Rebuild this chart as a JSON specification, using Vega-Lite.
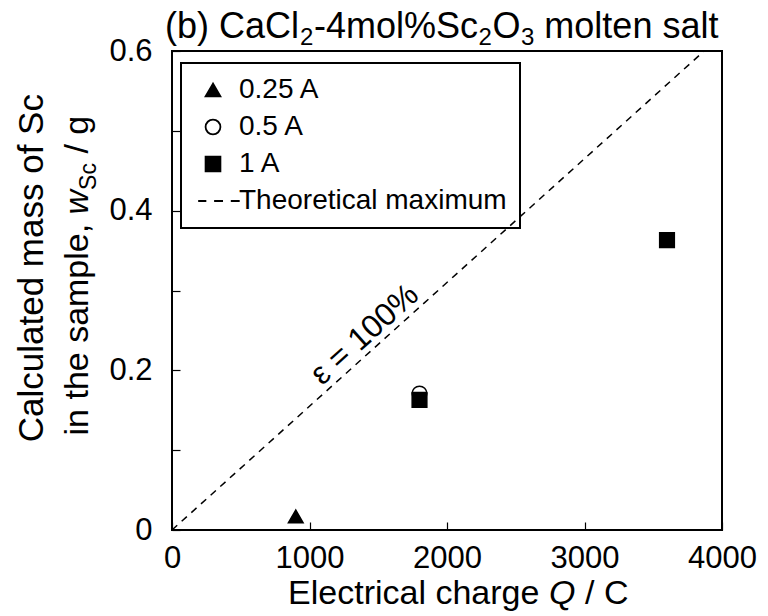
{
  "$schema": "https://vega.github.io/schema/vega-lite/v6.json",
  "width": 550,
  "height": 479,
  "autosize": "none",
  "padding": {"left": 172, "top": 51, "right": 46, "bottom": 86},
  "config": {
    "font": "Liberation Sans",
    "view": {"stroke": "black", "strokeWidth": 2},
    "axis": {"domain": false, "grid": false, "tickColor": "black", "labelColor": "black", "labelFont": "Liberation Sans", "labelFontSize": 31, "tickWidth": 1.2, "title": null, "labelFlush": false},
    "legend": {"labelFontSize": 28, "labelFont": "Liberation Sans", "labelColor": "black", "labelLimit": 400, "labelOffset": 12, "symbolSize": 220, "symbolStrokeWidth": 1.8, "symbolOffset": 5, "rowPadding": 9, "padding": 13, "strokeColor": "black", "strokeWidth": 2}
  },
  "layer": [
    {
      "data": {"values": [{"Q": 0, "w": 0}, {"Q": 3870, "w": 0.6}]},
      "mark": {"type": "line", "color": "black", "strokeWidth": 1.5, "strokeDash": [7, 6]},
      "encoding": {
        "x": {"field": "Q", "type": "quantitative", "scale": {"domain": [0, 4000]},
              "axis": {"values": [0, 1000, 2000, 3000, 4000], "format": "d", "tickSize": -8, "labelPadding": 21, "title": null, "labelFlush": false}},
        "y": {"field": "w", "type": "quantitative", "scale": {"domain": [0, 0.6]},
              "axis": {"values": [0, 0.1, 0.2, 0.3, 0.4, 0.5, 0.6], "format": "~g", "labelExpr": "round(datum.value*10) % 2 == 0 ? datum.label : ''", "tickSize": -8, "labelPadding": 28, "title": null, "labelFlush": false}}
      }
    },
    {
      "data": {"values": [
        {"Q": 900, "w": 0.017, "series": "0.25 A"},
        {"Q": 1800, "w": 0.171, "series": "0.5 A"},
        {"Q": 1800, "w": 0.163, "series": "1 A"},
        {"Q": 3600, "w": 0.363, "series": "1 A"}
      ]},
      "mark": {"type": "point", "filled": true, "strokeWidth": 1.5, "size": 215, "opacity": 1},
      "encoding": {
        "x": {"field": "Q", "type": "quantitative", "scale": {"domain": [0, 4000]}},
        "y": {"field": "w", "type": "quantitative", "scale": {"domain": [0, 0.6]}},
        "shape": {"field": "series", "type": "nominal",
          "scale": {"domain": ["0.25 A", "0.5 A", "1 A", "Theoretical maximum"], "range": ["triangle-up", "circle", "square", "M-2,0H-0.9M0.15,0H1.35M2.4,0H3.6"]},
          "legend": {"orient": "none", "legendX": 9, "legendY": 12, "title": null}},
        "fill": {"field": "series", "type": "nominal",
          "scale": {"domain": ["0.25 A", "0.5 A", "1 A", "Theoretical maximum"], "range": ["black", "white", "black", "transparent"]},
          "legend": {"orient": "none", "legendX": 9, "legendY": 12, "title": null}},
        "stroke": {"field": "series", "type": "nominal",
          "scale": {"domain": ["0.25 A", "0.5 A", "1 A", "Theoretical maximum"], "range": ["black", "black", "black", "black"]},
          "legend": {"orient": "none", "legendX": 9, "legendY": 12, "title": null}}
      }
    },
    {
      "data": {"values": [{}]},
      "mark": {"type": "text", "text": "(b) CaCl", "align": "left", "baseline": "alphabetic", "fontSize": 36, "font": "Liberation Sans", "color": "black"},
      "encoding": {"x": {"datum": -51, "type": "quantitative"}, "y": {"datum": 0.6163, "type": "quantitative"}}
    },
    {
      "data": {"values": [{}]},
      "mark": {"type": "text", "text": "2", "align": "left", "baseline": "alphabetic", "fontSize": 24, "font": "Liberation Sans", "color": "black"},
      "encoding": {"x": {"datum": 931, "type": "quantitative"}, "y": {"datum": 0.6075, "type": "quantitative"}}
    },
    {
      "data": {"values": [{}]},
      "mark": {"type": "text", "text": "-4mol%Sc", "align": "left", "baseline": "alphabetic", "fontSize": 36, "font": "Liberation Sans", "color": "black"},
      "encoding": {"x": {"datum": 1033, "type": "quantitative"}, "y": {"datum": 0.6163, "type": "quantitative"}}
    },
    {
      "data": {"values": [{}]},
      "mark": {"type": "text", "text": "2", "align": "left", "baseline": "alphabetic", "fontSize": 24, "font": "Liberation Sans", "color": "black"},
      "encoding": {"x": {"datum": 2229, "type": "quantitative"}, "y": {"datum": 0.6075, "type": "quantitative"}}
    },
    {
      "data": {"values": [{}]},
      "mark": {"type": "text", "text": "O", "align": "left", "baseline": "alphabetic", "fontSize": 36, "font": "Liberation Sans", "color": "black"},
      "encoding": {"x": {"datum": 2331, "type": "quantitative"}, "y": {"datum": 0.6163, "type": "quantitative"}}
    },
    {
      "data": {"values": [{}]},
      "mark": {"type": "text", "text": "3", "align": "left", "baseline": "alphabetic", "fontSize": 24, "font": "Liberation Sans", "color": "black"},
      "encoding": {"x": {"datum": 2538, "type": "quantitative"}, "y": {"datum": 0.6075, "type": "quantitative"}}
    },
    {
      "data": {"values": [{}]},
      "mark": {"type": "text", "text": "molten salt", "align": "left", "baseline": "alphabetic", "fontSize": 36, "font": "Liberation Sans", "color": "black"},
      "encoding": {"x": {"datum": 2708, "type": "quantitative"}, "y": {"datum": 0.6163, "type": "quantitative"}}
    },
    {
      "data": {"values": [{}]},
      "mark": {"type": "text", "text": "ε = 100%", "angle": 318, "align": "center", "baseline": "middle", "fontSize": 32, "font": "Liberation Sans", "color": "black"},
      "encoding": {"x": {"datum": 1400, "type": "quantitative"}, "y": {"datum": 0.245, "type": "quantitative"}}
    },
    {
      "data": {"values": [{}]},
      "mark": {"type": "text", "text": "Calculated mass of Sc", "angle": 270, "align": "center", "baseline": "alphabetic", "fontSize": 35, "font": "Liberation Sans", "color": "black"},
      "encoding": {"x": {"datum": -938, "type": "quantitative"}, "y": {"datum": 0.328, "type": "quantitative"}}
    },
    {
      "data": {"values": [{}]},
      "mark": {"type": "text", "text": "in the sample,", "angle": 270, "align": "left", "baseline": "alphabetic", "fontSize": 34, "font": "Liberation Sans", "color": "black"},
      "encoding": {"x": {"datum": -611, "type": "quantitative"}, "y": {"datum": 0.1184, "type": "quantitative"}}
    },
    {
      "data": {"values": [{}]},
      "mark": {"type": "text", "text": "w", "angle": 270, "align": "left", "baseline": "alphabetic", "fontSize": 34, "fontStyle": "italic", "font": "Liberation Sans", "color": "black"},
      "encoding": {"x": {"datum": -611, "type": "quantitative"}, "y": {"datum": 0.3953, "type": "quantitative"}}
    },
    {
      "data": {"values": [{}]},
      "mark": {"type": "text", "text": "Sc", "angle": 270, "align": "left", "baseline": "alphabetic", "fontSize": 23, "font": "Liberation Sans", "color": "black"},
      "encoding": {"x": {"datum": -553, "type": "quantitative"}, "y": {"datum": 0.426, "type": "quantitative"}}
    },
    {
      "data": {"values": [{}]},
      "mark": {"type": "text", "text": "/ g", "angle": 270, "align": "left", "baseline": "alphabetic", "fontSize": 34, "font": "Liberation Sans", "color": "black"},
      "encoding": {"x": {"datum": -611, "type": "quantitative"}, "y": {"datum": 0.4715, "type": "quantitative"}}
    },
    {
      "data": {"values": [{}]},
      "mark": {"type": "text", "text": "Electrical charge", "align": "left", "baseline": "alphabetic", "fontSize": 34, "font": "Liberation Sans", "color": "black"},
      "encoding": {"x": {"datum": 844, "type": "quantitative"}, "y": {"datum": -0.0933, "type": "quantitative"}}
    },
    {
      "data": {"values": [{}]},
      "mark": {"type": "text", "text": "Q", "align": "left", "baseline": "alphabetic", "fontSize": 34, "fontStyle": "italic", "font": "Liberation Sans", "color": "black"},
      "encoding": {"x": {"datum": 2742, "type": "quantitative"}, "y": {"datum": -0.0933, "type": "quantitative"}}
    },
    {
      "data": {"values": [{}]},
      "mark": {"type": "text", "text": "/ C", "align": "left", "baseline": "alphabetic", "fontSize": 34, "font": "Liberation Sans", "color": "black"},
      "encoding": {"x": {"datum": 3004, "type": "quantitative"}, "y": {"datum": -0.0933, "type": "quantitative"}}
    }
  ]
}
